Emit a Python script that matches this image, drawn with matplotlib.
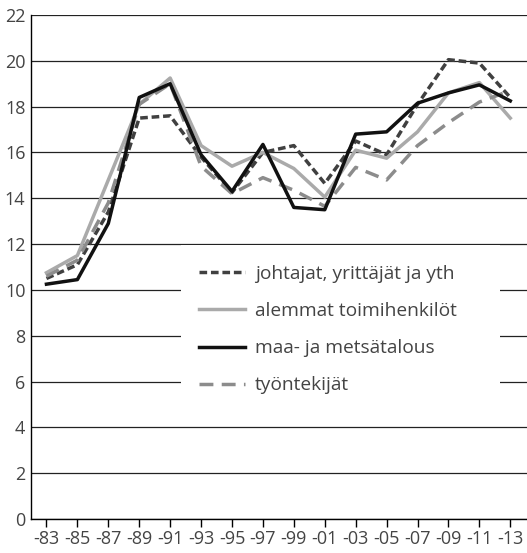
import matplotlib
matplotlib.use("Agg")
import matplotlib.pyplot as plt
from matplotlib.patches import Rectangle
import numpy as np

# values
years = ["-83", "-85", "-87", "-89", "-91", "-93", "-95", "-97",
         "-99", "-01", "-03", "-05", "-07", "-09", "-11", "-13"]

johtajat = [10.5, 11.1, 13.4, 17.5, 17.6, 15.8, 14.25, 16.0,
            16.3, 14.65, 16.5, 15.9, 18.1, 20.05, 19.9, 18.4]
alemmat = [10.75, 11.5, 14.8, 18.1, 19.25, 16.3, 15.4, 16.0,
           15.3, 14.05, 16.1, 15.75, 16.9, 18.6, 19.05, 17.5]
maa_metsa = [10.25, 10.45, 12.9, 18.4, 19.0, 15.9, 14.3, 16.35,
             13.6, 13.5, 16.8, 16.9, 18.15, 18.6, 18.95, 18.25]
tyontekijat = [10.6, 11.3, 13.8, 18.1, 19.0, 15.4, 14.2, 14.9,
               14.35, 13.65, 15.35, 14.8, 16.3, 17.3, 18.2, 18.7]

labels = ["johtajat, yrittäjät ja yth", "alemmat toimihenkilöt",
          "maa- ja metsätalous", "työntekijät"]

plt.rcParams['font.family'] = ['Open Sans', 'DejaVu Sans']
txt = '#444444'

fig = plt.figure(figsize=(5.27, 5.53), dpi=100)
ax = fig.add_axes([31 / 527, 34 / 553, 1 - 31 / 527, 504 / 553])

x = np.arange(len(years))
lw = 2.5
ax.plot(x, johtajat, color='#404040', lw=lw, dashes=(2.2, 1.1), label=labels[0], zorder=3)
ax.plot(x, alemmat, color='#aaaaaa', lw=lw, label=labels[1], zorder=3)
ax.plot(x, maa_metsa, color='#111111', lw=lw, label=labels[2], zorder=4)
ax.plot(x, tyontekijat, color='#8c8c8c', lw=lw, dashes=(4.0, 2.4), label=labels[3], zorder=3)

# white area behind the legend, hides the grid lines there
ax.add_patch(Rectangle((0.302, 0.1845), 0.6436, 0.3592, transform=ax.transAxes,
                       facecolor='white', edgecolor='none', zorder=2))

ax.set_xlim(-0.5, 15.54)
ax.set_ylim(0, 22)
ax.set_yticks(range(0, 23, 2))
ax.set_xticks(x)
ax.set_xticklabels(years)
ax.yaxis.grid(True, color='#222222', lw=0.9, zorder=1)
ax.set_axisbelow(True)

for s in ['top', 'right']:
    ax.spines[s].set_visible(False)
for s in ['left', 'bottom']:
    ax.spines[s].set_color('black')
    ax.spines[s].set_linewidth(1.0)

ax.tick_params(axis='y', length=0, pad=4, labelsize=13, labelcolor=txt)
ax.tick_params(axis='x', length=6, width=1, direction='out', pad=2, labelsize=13, labelcolor=txt)

leg = ax.legend(loc='upper left', bbox_to_anchor=((199 - 31) / 496, (519 - 265) / 504),
                frameon=False, fontsize=13.8, handlelength=2.4, labelspacing=1.0,
                borderpad=0, handletextpad=0.5, borderaxespad=0)
leg.set_zorder(5)
for t in leg.get_texts():
    t.set_color(txt)

fig.savefig("out.png", dpi=100)
